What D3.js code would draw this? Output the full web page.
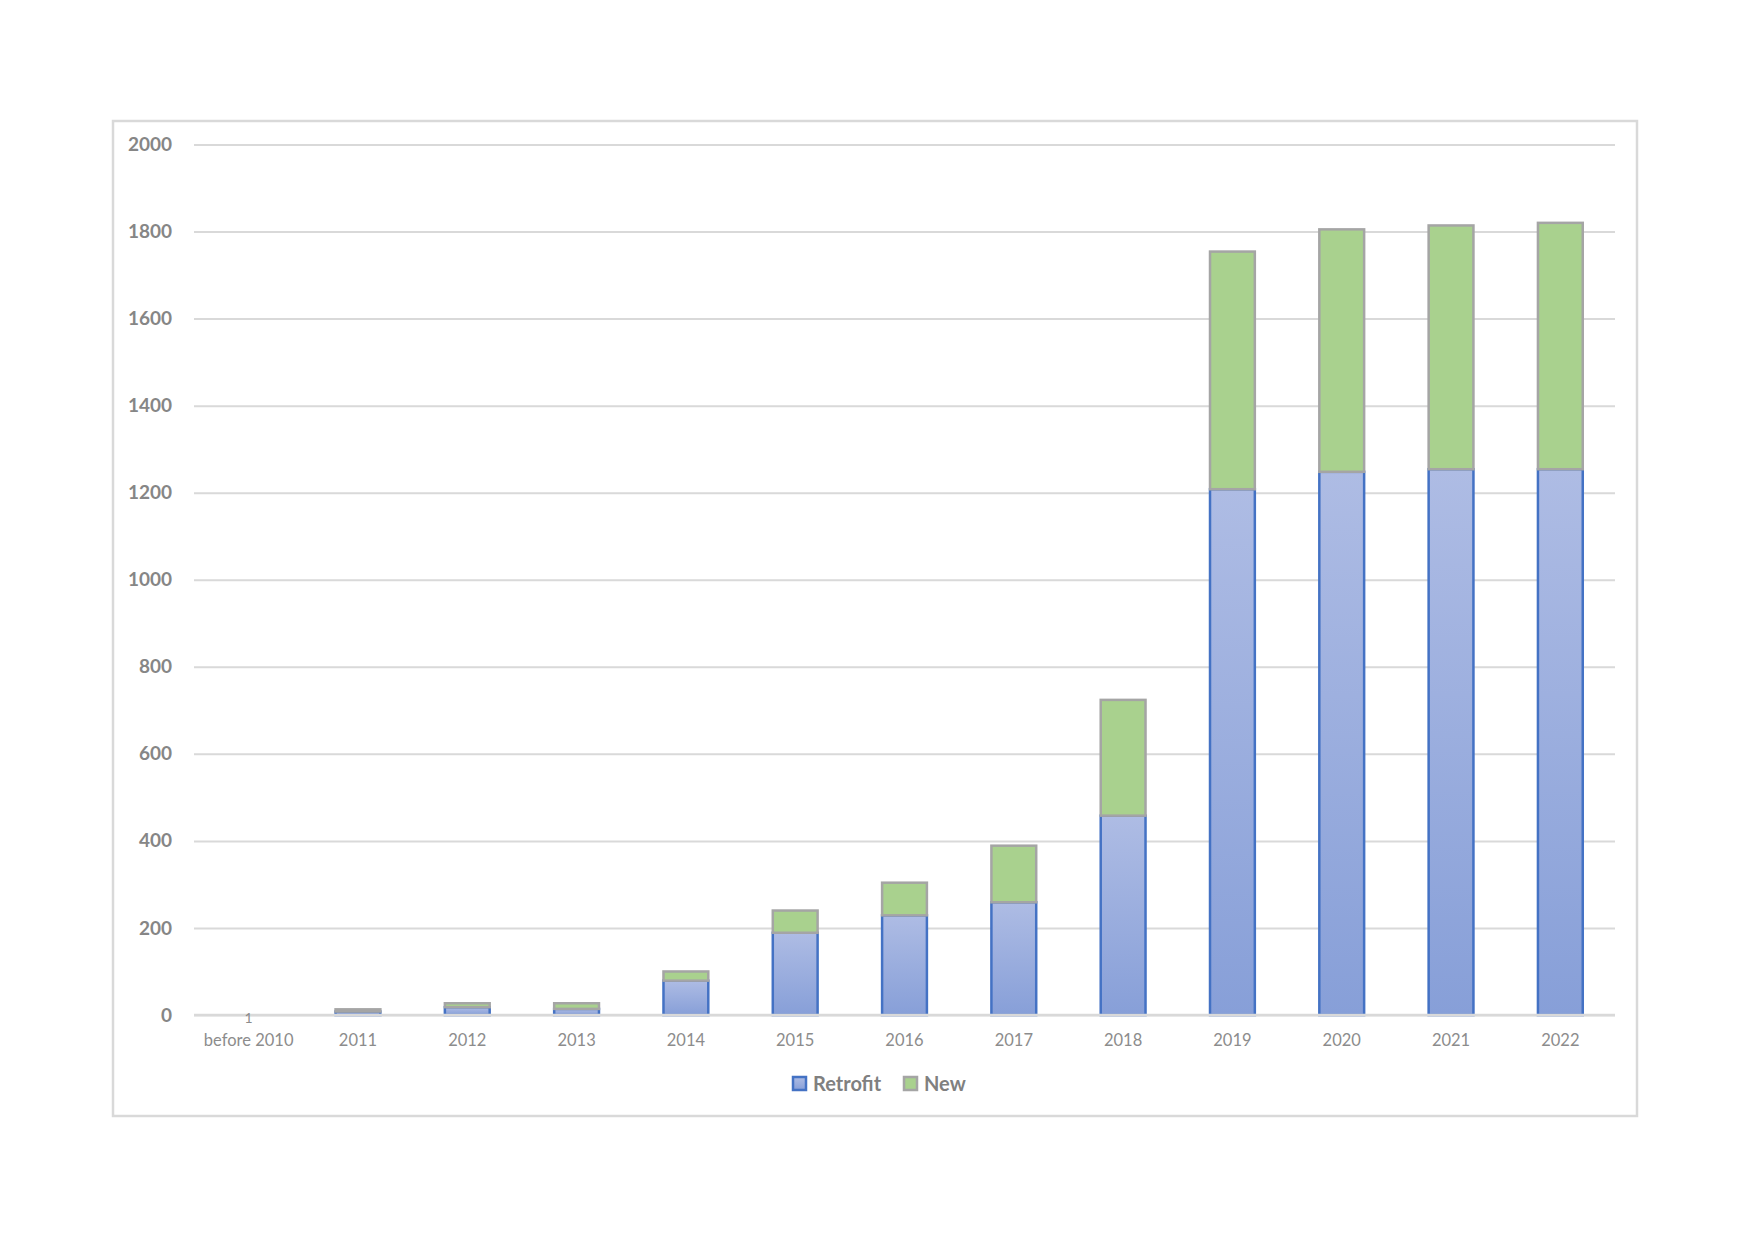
<!DOCTYPE html>
<html>
<head>
<meta charset="utf-8">
<script src="https://cdn.jsdelivr.net/npm/d3@7"></script>
<style>
  body { margin: 0; background: #ffffff; }
  text { font-family: Lato, "Open Sans", sans-serif; }
</style>
</head>
<body>
<script>
// chart data
var categories = ["before 2010", "2011", "2012", "2013", "2014", "2015", "2016",
    "2017", "2018", "2019", "2020", "2021", "2022"];
var retrofit = [1, 8, 18, 14, 79, 189, 229, 259, 458, 1208, 1248, 1254, 1254];
var newBuilt = [0, 5, 9, 13, 21, 51, 75, 130, 266, 546, 557, 560, 566];
var seriesNames = ["Retrofit", "New"];
var yTicks = [0, 200, 400, 600, 800, 1000, 1200, 1400, 1600, 1800, 2000];
var dataLabels = [{ index: 0, text: "1" }];

// page size
var svgWidth = 1754;
var svgHeight = 1240;

// plot area
var margin = { top: 144.5, left: 194, right: 139, bottom: 225 };
var width = svgWidth - margin.left - margin.right;
var height = svgHeight - margin.top - margin.bottom;

var svg = d3.select("body")
    .append("svg")
    .attr("width", svgWidth)
    .attr("height", svgHeight);

var defs = svg.append("defs");
var grad = defs.append("linearGradient")
    .attr("id", "retroGrad")
    .attr("x1", 0).attr("y1", 0)
    .attr("x2", 0).attr("y2", 1);
grad.append("stop").attr("offset", "0%").attr("stop-color", "#aebce4");
grad.append("stop").attr("offset", "100%").attr("stop-color", "#879fd8");

// outer chart frame
svg.append("rect")
    .attr("x", 113)
    .attr("y", 121)
    .attr("width", 1524)
    .attr("height", 995)
    .attr("fill", "none")
    .attr("stroke", "#d9d9d9")
    .attr("stroke-width", 2.5);

var chartGroup = svg.append("g")
    .attr("transform", `translate(${margin.left}, ${margin.top})`);

// build table for the stack
var table = categories.map(function (c, i) {
    return { category: c, Retrofit: retrofit[i], New: newBuilt[i] };
});

var stacked = d3.stack().keys(seriesNames)(table);

var xScale = d3.scaleBand()
    .domain(categories)
    .range([0, width])
    .paddingInner(0.59)
    .paddingOuter(0.295);

var yScale = d3.scaleLinear()
    .domain([0, 2000])
    .range([height, 0]);

// gridlines
var leftAxis = d3.axisLeft(yScale)
    .tickValues(yTicks)
    .tickSize(-width)
    .tickPadding(22)
    .tickFormat(d3.format("d"));

var yAxisG = chartGroup.append("g").call(leftAxis);
yAxisG.select(".domain").remove();
yAxisG.selectAll(".tick line")
    .attr("stroke", "#d9d9d9")
    .attr("stroke-width", 2);
yAxisG.selectAll(".tick text")
    .attr("fill", "#868686")
    .attr("font-size", "19px")
    .attr("font-weight", 700)
    .style("font-family", "Lato, sans-serif");

var fills = { Retrofit: "url(#retroGrad)", New: "#a9d18e" };
var strokes = { Retrofit: "#4472c4", New: "#a5a5a5" };

// bars (very thin segments get no outline, as in the original)
chartGroup.selectAll(".series")
    .data(stacked)
    .enter()
    .append("g")
    .attr("class", "series")
    .attr("fill", d => fills[d.key])
    .selectAll("rect")
    .data(d => d.filter(p => p[1] - p[0] > 0).map(p => Object.assign(p, { key: d.key })))
    .enter()
    .append("rect")
    .attr("x", d => xScale(d.data.category))
    .attr("y", d => yScale(d[1]))
    .attr("width", xScale.bandwidth())
    .attr("height", d => yScale(d[0]) - yScale(d[1]))
    .attr("stroke", d => (yScale(d[0]) - yScale(d[1]) > 1 ? strokes[d.key] : "none"))
    .attr("stroke-width", 2.5);

// baseline over bar bottoms
chartGroup.append("line")
    .attr("x1", 0)
    .attr("x2", width)
    .attr("y1", yScale(0))
    .attr("y2", yScale(0))
    .attr("stroke", "#d9d9d9")
    .attr("stroke-width", 2.5);

// category labels
var bottomAxis = d3.axisBottom(xScale).tickSize(0).tickPadding(19);
var xAxisG = chartGroup.append("g")
    .attr("transform", `translate(0, ${height})`)
    .call(bottomAxis);
xAxisG.select(".domain").remove();
xAxisG.selectAll(".tick text")
    .attr("fill", "#8c8c8c")
    .attr("font-size", "16.5px")
    .style("font-family", "Lato, sans-serif");

// data label on the tiny first bar
chartGroup.selectAll(".dataLabel")
    .data(dataLabels)
    .enter()
    .append("text")
    .attr("class", "dataLabel")
    .attr("x", d => xScale(categories[d.index]) + xScale.bandwidth() / 2)
    .attr("y", d => yScale(retrofit[d.index]) + 8)
    .attr("text-anchor", "middle")
    .attr("fill", "#8c8c8c")
    .attr("font-size", "14px")
    .text(d => d.text);

// legend
var legendX = [793, 904];
var legend = svg.selectAll(".legend")
    .data(seriesNames)
    .enter()
    .append("g")
    .attr("class", "legend")
    .attr("transform", (d, i) => `translate(${legendX[i]}, 1077)`);

legend.append("rect")
    .attr("width", 13)
    .attr("height", 13)
    .attr("fill", d => fills[d])
    .attr("stroke", d => strokes[d])
    .attr("stroke-width", 2.5);

legend.append("text")
    .attr("x", 20)
    .attr("y", 14)
    .attr("fill", "#808080")
    .attr("font-size", "20px")
    .attr("font-weight", 700)
    .text(d => d);
</script>
</body>
</html>
